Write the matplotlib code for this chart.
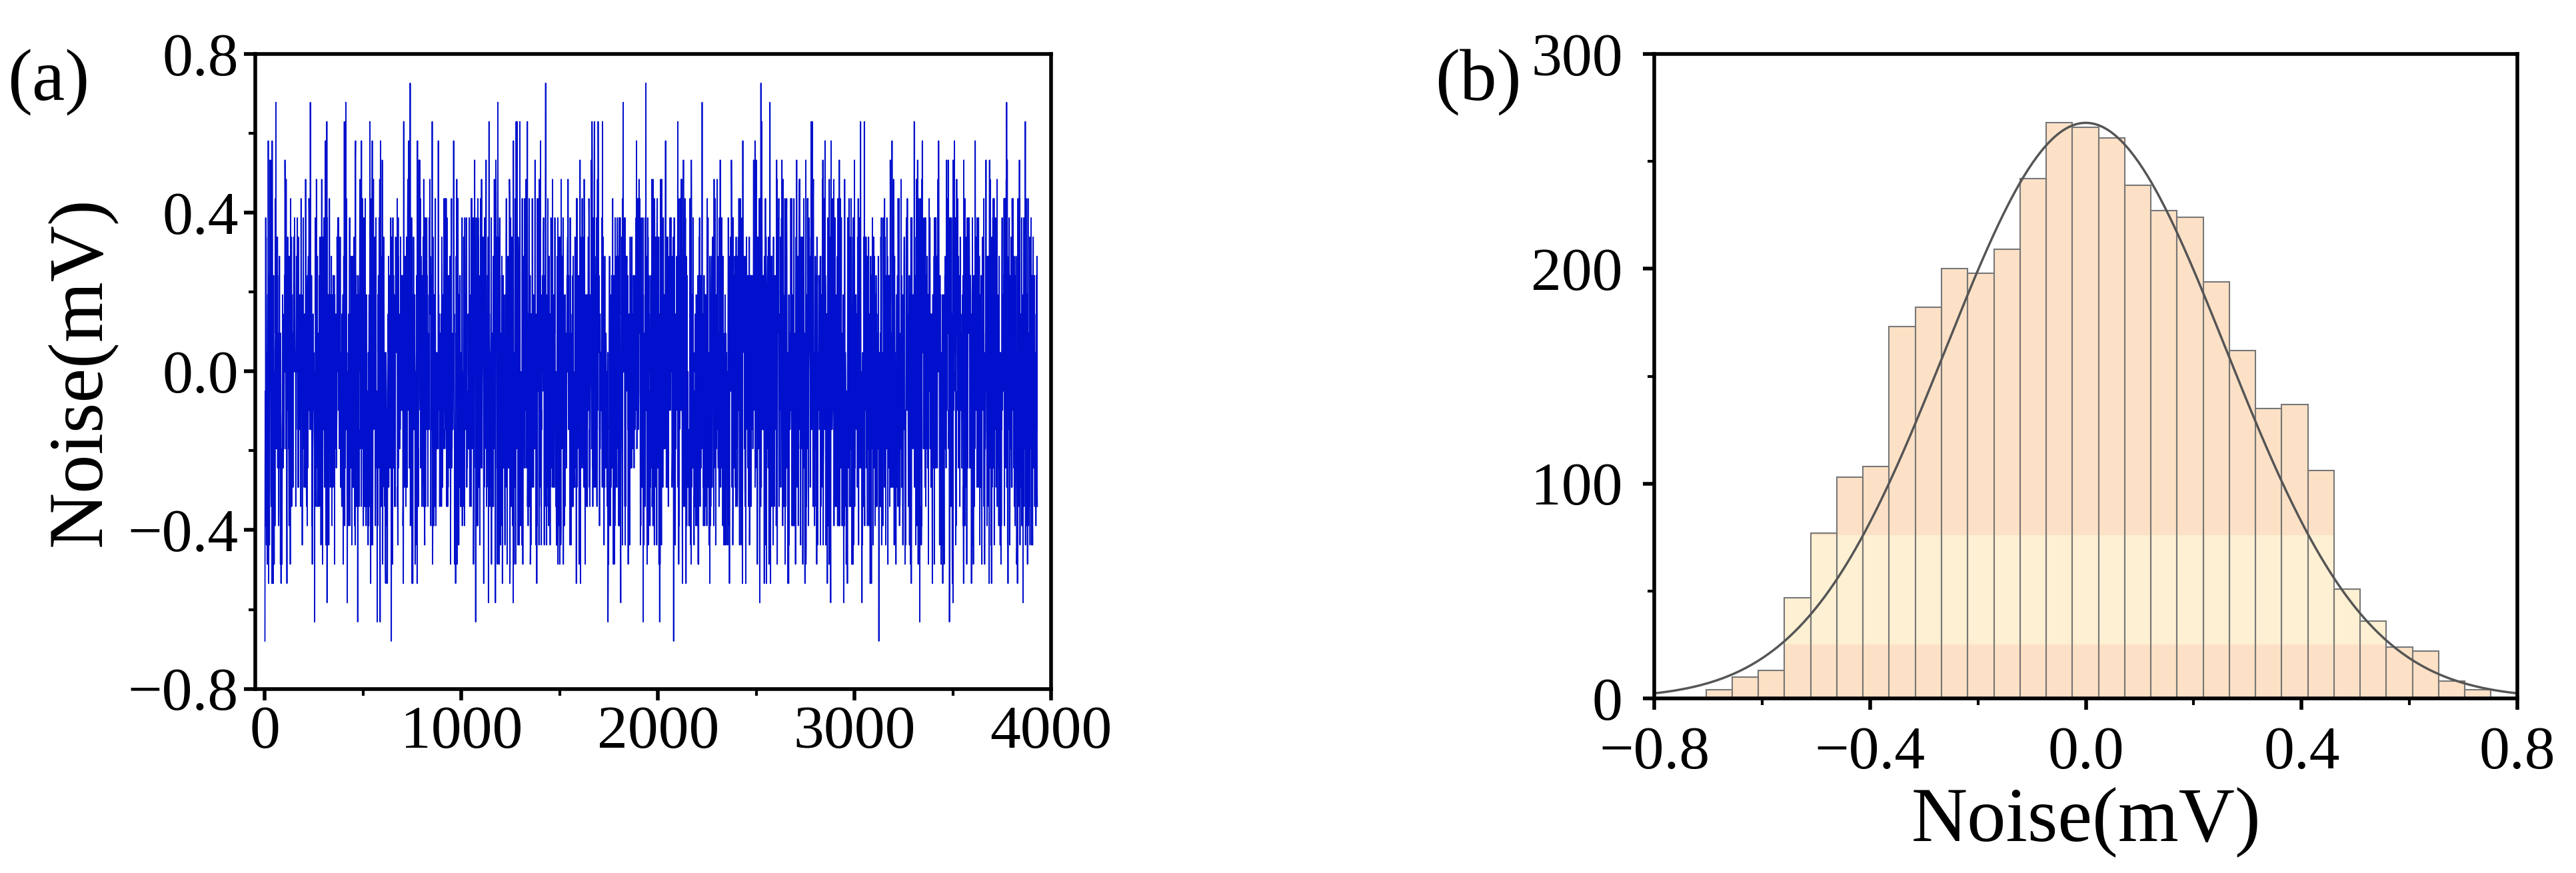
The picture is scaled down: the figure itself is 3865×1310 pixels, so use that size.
import numpy as np
from matplotlib import pyplot as plt
from matplotlib.ticker import MultipleLocator

plt.rcParams['font.family'] = ['Liberation Serif', 'DejaVu Serif']

# histogram
bin_left  = -0.704
bin_width = 0.0485
counts = [4, 10, 13, 47, 77, 103, 108, 173, 182, 200,
          198, 209, 242, 268, 266, 261, 239, 227, 224, 194,
          162, 135, 137, 106, 51, 36, 24, 22, 8, 4]

# gaussian fit parameters
fit_amp   = 268
fit_mean  = 0.0
fit_sigma = 0.26

# noise trace: histogram samples in a fixed scrambled order
edges   = bin_left + bin_width*np.arange(len(counts)+1)
centers = (edges[:-1] + edges[1:]) / 2
samples = np.repeat(centers, counts)
N       = len(samples)
keys    = (np.arange(N, dtype=np.uint64)*np.uint64(2654435761)) % np.uint64(2**32)
keys    = (keys ^ (keys >> np.uint64(13))) * np.uint64(40503) % np.uint64(2**32)
trace   = samples[np.argsort(keys)]
t       = np.arange(N)

fig = plt.figure(figsize=(38.66, 13.10), dpi=100)

ax1 = fig.add_axes([0.099, 0.211, 0.309, 0.727])
ax1.plot(t, trace, color='#0010cc', lw=1.3)
ax1.set_xlim(-50, 4000)
ax1.set_ylim(-0.8, 0.8)
ax1.xaxis.set_major_locator(MultipleLocator(1000))
ax1.xaxis.set_minor_locator(MultipleLocator(500))
ax1.yaxis.set_major_locator(MultipleLocator(0.4))
ax1.yaxis.set_minor_locator(MultipleLocator(0.2))
ax1.set_ylabel('Noise(mV)', fontsize=84, labelpad=12)
fig.text(0.003, 0.905, '(a)', fontsize=80, va='center')

ax2 = fig.add_axes([0.642, 0.200, 0.335, 0.738])
ax2.bar(edges[:-1], counts, width=bin_width, align='edge',
        color='#fde1c6', edgecolor='none')
# lighter band seen in the original
low, high = 25, 76
band_h = [max(0, min(c, high) - low) for c in counts]
ax2.bar(edges[:-1], band_h, width=bin_width, bottom=low, align='edge',
        color='#fef0d2', edgecolor='none')
ax2.bar(edges[:-1], counts, width=bin_width, align='edge',
        fill=False, edgecolor='#777777', linewidth=1.5)
xs = np.linspace(-0.8, 0.8, 400)
ax2.plot(xs, fit_amp*np.exp(-(xs-fit_mean)**2/(2*fit_sigma**2)), color='#555555', lw=2.5)
ax2.set_xlim(-0.8, 0.8)
ax2.set_ylim(0, 300)
ax2.xaxis.set_major_locator(MultipleLocator(0.4))
ax2.xaxis.set_minor_locator(MultipleLocator(0.2))
ax2.yaxis.set_major_locator(MultipleLocator(100))
ax2.yaxis.set_minor_locator(MultipleLocator(50))
ax2.set_xlabel('Noise(mV)', fontsize=84, labelpad=6)
fig.text(0.557, 0.905, '(b)', fontsize=80, va='center')

for ax in (ax1, ax2):
    for s in ax.spines.values():
        s.set_linewidth(4)
    ax.tick_params(which='major', direction='out', length=12, width=4, labelsize=66, pad=6)
    ax.tick_params(which='minor', direction='out', length=7, width=3)
ax2.tick_params(axis='x', which='major', pad=18)
ax2.tick_params(axis='y', which='major', pad=22)

fig.savefig('out.png')
